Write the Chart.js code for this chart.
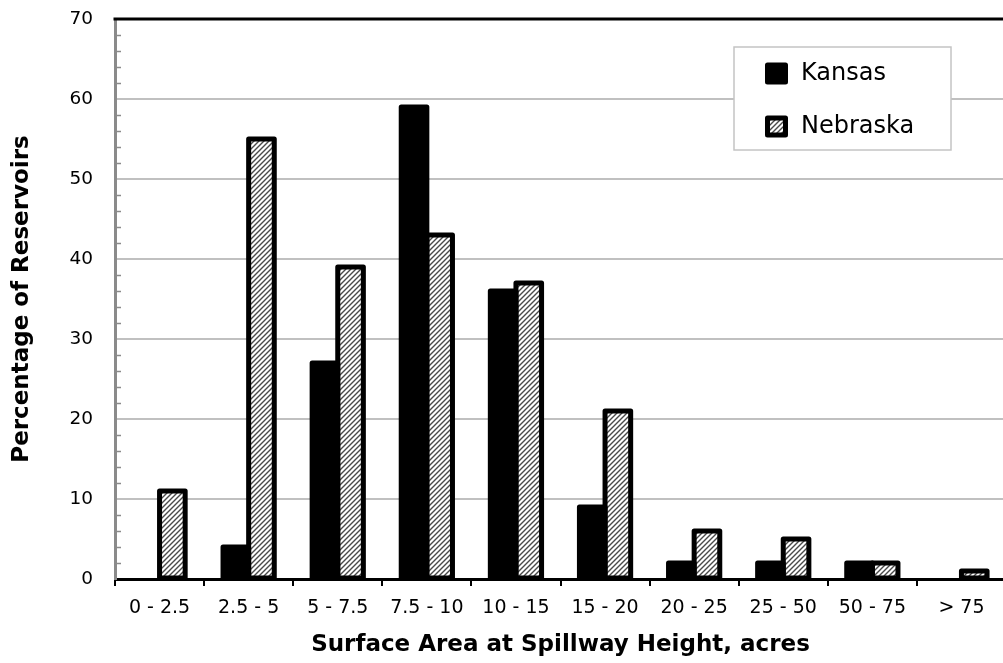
<!DOCTYPE html>
<html>
<head>
<meta charset="utf-8">
<script src="https://cdn.jsdelivr.net/npm/chart.js@4.4.0/dist/chart.umd.min.js"></script>
<style>
html,body{margin:0;padding:0;background:#fff;overflow:hidden;}
#wrap{width:1003px;height:663px;overflow:hidden;position:relative;}
canvas{display:block;}
</style>
</head>
<body>
<div id="wrap"><canvas id="c" width="1008" height="663"></canvas></div>
<script>
const categories = ['0 - 2.5','2.5 - 5','5 - 7.5','7.5 - 10','10 - 15','15 - 20','20 - 25','25 - 50','50 - 75','> 75'];
const kansas   = [0, 4, 27, 59, 36, 9, 2, 2, 2, 0];
const nebraska = [11, 55, 39, 43, 37, 21, 6, 5, 2, 1];
const seriesNames = ['Kansas', 'Nebraska'];
const yMin = 0, yMax = 70, yStep = 10, yMinorStep = 2;
const xTitle = 'Surface Area at Spillway Height, acres';
const yTitle = 'Percentage of Reservoirs';

const FONT = 'DejaVu Sans';

function makeHatch() {
  const s = 5;
  const p = document.createElement('canvas');
  p.width = s; p.height = s;
  const g = p.getContext('2d');
  g.fillStyle = '#ffffff';
  g.fillRect(0, 0, s, s);
  g.strokeStyle = '#4a4a4a';
  g.lineWidth = 1.4;
  g.beginPath();
  g.moveTo(-1, s + 1); g.lineTo(s + 1, -1);
  g.moveTo(-1, 1); g.lineTo(1, -1);
  g.moveTo(s - 1, s + 1); g.lineTo(s + 1, s - 1);
  g.stroke();
  return document.getElementById('c').getContext('2d').createPattern(p, 'repeat');
}
const hatch = makeHatch();

const barOutline = {
  id: 'barOutline',
  afterDatasetsDraw(chart) {
    const ctx = chart.ctx;
    ctx.save();
    ctx.strokeStyle = '#000';
    ctx.lineWidth = 5;
    ctx.lineJoin = 'round';
    chart.data.datasets.forEach((ds, i) => {
      const meta = chart.getDatasetMeta(i);
      meta.data.forEach((bar, j) => {
        if (!ds.data[j]) return;
        const p = bar.getProps(['x', 'y', 'base', 'width'], true);
        ctx.strokeRect(p.x - p.width / 2, p.y, p.width, p.base - p.y);
      });
    });
    ctx.restore();
  }
};

const frame = {
  id: 'frame',
  afterDraw(chart) {
    const ctx = chart.ctx;
    const y = chart.scales.y;
    const area = chart.chartArea;
    ctx.save();
    // minor ticks inside the y axis
    ctx.strokeStyle = '#8a8a8a';
    ctx.lineWidth = 1.5;
    ctx.beginPath();
    for (let v = yMin + yMinorStep; v < yMax; v += yMinorStep) {
      if (v % yStep === 0) continue;
      const py = Math.round(y.getPixelForValue(v)) + 0.5;
      ctx.moveTo(area.left, py);
      ctx.lineTo(area.left + 6, py);
    }
    ctx.stroke();
    // top border
    ctx.strokeStyle = '#000';
    ctx.lineWidth = 3;
    ctx.beginPath();
    const ty = y.getPixelForValue(yMax);
    ctx.moveTo(area.left - 1.5, ty);
    ctx.lineTo(chart.width, ty);
    ctx.stroke();

    // legend
    const bx = 734, by = 47, bw = 217, bh = 103;
    ctx.fillStyle = '#fff';
    ctx.fillRect(bx, by, bw, bh);
    ctx.strokeStyle = '#c4c4c4';
    ctx.lineWidth = 1.5;
    ctx.strokeRect(bx, by, bw, bh);
    const items = chart.data.datasets;
    const rows = [73, 126];
    items.forEach((ds, i) => {
      const cy = rows[i];
      ctx.fillStyle = ds.backgroundColor;
      ctx.fillRect(767.5, cy - 8, 18, 17);
      ctx.strokeStyle = '#000';
      ctx.lineWidth = 5;
      ctx.lineJoin = 'round';
      ctx.strokeRect(767.5, cy - 8, 18, 17);
      ctx.fillStyle = '#000';
      ctx.font = '24px "' + FONT + '"';
      ctx.textBaseline = 'middle';
      ctx.textAlign = 'left';
      ctx.fillText(ds.label, 801, cy + 1);
    });
    ctx.restore();
  }
};

new Chart(document.getElementById('c'), {
  type: 'bar',
  data: {
    labels: categories,
    datasets: [
      { label: seriesNames[0], data: kansas, backgroundColor: '#000000', borderWidth: 0 },
      { label: seriesNames[1], data: nebraska, backgroundColor: hatch, borderWidth: 0 }
    ]
  },
  options: {
    responsive: false,
    devicePixelRatio: 1,
    animation: false,
    events: [],
    categoryPercentage: 0.575,
    barPercentage: 1.0,
    layout: { padding: { top: 19, right: 2, left: 0, bottom: 0 } },
    plugins: { legend: { display: false }, tooltip: { enabled: false } },
    scales: {
      x: {
        offset: true,
        grid: { offset: true, drawOnChartArea: false, drawTicks: true, tickLength: 7, color: '#000', lineWidth: 2 },
        border: { color: '#000', width: 3 },
        ticks: { color: '#000', font: { family: FONT, size: 19 }, padding: 11, maxRotation: 0, autoSkip: false },
        title: { display: true, text: xTitle, color: '#000', font: { family: FONT, size: 23, weight: 'bold' }, padding: { top: 0, bottom: 4 } },
        afterFit(s) { s.height = 84; s.paddingLeft = 0; s.paddingRight = 0; }
      },
      y: {
        min: yMin, max: yMax,
        ticks: { stepSize: yStep, color: '#000', font: { family: FONT, size: 18.5 }, padding: 22 },
        grid: { color: '#c0c0c0', lineWidth: 2, drawTicks: false },
        border: { color: '#8a8a8a', width: 3 },
        title: { display: true, text: yTitle, color: '#000', font: { family: FONT, size: 23, weight: 'bold' }, padding: { top: 8, bottom: 0 } },
        afterFit(s) { s.width = 115; s.paddingTop = 0; s.paddingBottom = 0; }
      }
    }
  },
  plugins: [barOutline, frame]
});
</script>
</body>
</html>
